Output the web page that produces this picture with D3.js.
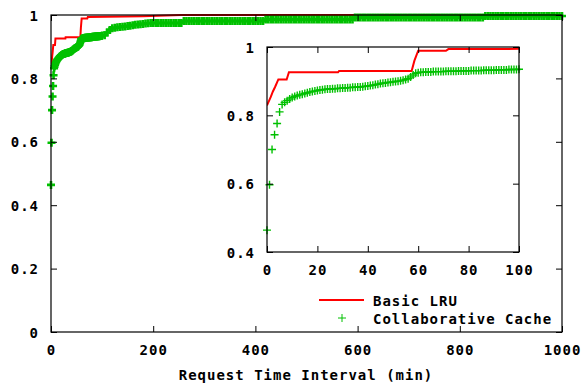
<!DOCTYPE html>
<html>
<head>
<meta charset="utf-8">
<script src="https://cdn.jsdelivr.net/npm/d3@7"></script>
<style>
  body { margin: 0; background: #fff; }
  text { font-family: "DejaVu Sans Mono", monospace; font-weight: bold; font-size: 14px; letter-spacing: 1px; fill: #000; }
</style>
</head>
<body>
<svg width="587" height="384"></svg>
<script>
// data
var lruTimes = [0, 1.5, 2.3, 3.2, 4.5, 7.8, 8.7, 28.2, 28.6, 57.4, 58.5, 60, 71, 72, 180, 255, 1000];
var lruHit   = [0.829, 0.854, 0.869, 0.883, 0.905, 0.905, 0.926, 0.926, 0.930, 0.930, 0.960, 0.989, 0.989, 0.994, 0.996, 1.0, 1.0];

// collaborative cache, sampled every minute up to 100
var collabFine = [
  0.464,0.597,0.700,0.743,0.776,0.810,0.832,0.838,0.843,0.848,
  0.852,0.855,0.858,0.860,0.862,0.864,0.866,0.868,0.870,0.871,
  0.873,0.874,0.875,0.876,0.877,0.877,0.878,0.878,0.879,0.879,
  0.880,0.880,0.881,0.881,0.882,0.882,0.883,0.883,0.884,0.885,
  0.886,0.887,0.888,0.890,0.891,0.893,0.894,0.895,0.896,0.897,
  0.898,0.899,0.900,0.901,0.903,0.905,0.907,0.912,0.918,0.923,
  0.925,0.926,0.926,0.927,0.927,0.927,0.928,0.928,0.928,0.928,
  0.928,0.929,0.929,0.929,0.929,0.929,0.930,0.930,0.930,0.930,
  0.930,0.931,0.931,0.931,0.931,0.931,0.932,0.932,0.932,0.932,
  0.932,0.933,0.933,0.933,0.933,0.933,0.934,0.934,0.934,0.934,0.935];
// then every 5 minutes from 105 to 1000
var collabCoarse = [
  0.936,0.945,0.953,0.958,0.960,0.961,0.962,0.963,0.964,0.965,
  0.966,0.968,0.969,0.970,0.971,0.972,0.973,0.974,0.975,0.975,
  0.975,0.975,0.975,0.975,0.975,0.975,0.975,0.975,0.975,0.975,
  0.975,0.981,0.981,0.981,0.981,0.981,0.981,0.981,0.981,0.981,
  0.981,0.981,0.981,0.981,0.981,0.981,0.981,0.981,0.981,0.981,
  0.981,0.981,0.981,0.981,0.981,0.981,0.981,0.981,0.981,0.981,
  0.981,0.981,0.981,0.986,0.986,0.986,0.986,0.986,0.986,0.986,
  0.986,0.986,0.986,0.986,0.986,0.986,0.986,0.986,0.986,0.986,
  0.986,0.986,0.986,0.986,0.986,0.986,0.986,0.986,0.986,0.986,
  0.986,0.986,0.986,0.986,0.986,0.986,0.986,0.986,0.992,0.992,
  0.992,0.992,0.992,0.992,0.992,0.992,0.992,0.992,0.992,0.992,
  0.992,0.992,0.992,0.992,0.992,0.992,0.992,0.992,0.992,0.992,
  0.992,0.992,0.992,0.992,0.992,0.992,0.992,0.992,0.992,0.992,
  0.992,0.992,0.992,0.992,0.992,0.992,0.992,0.992,0.992,0.992,
  0.992,0.992,0.992,0.992,0.992,0.992,0.992,0.992,0.992,0.997,
  0.997,0.997,0.997,0.997,0.997,0.997,0.997,0.997,0.997,0.997,
  0.997,0.997,0.997,0.997,0.997,0.997,0.997,0.997,0.997,0.997,
  0.997,0.997,0.997,0.997,0.997,0.997,0.997,0.997,0.997,0.997];
var fineTimes = d3.range(0, 101);
var coarseTimes = d3.range(105, 1001, 5);

var mainXTicks = [0, 200, 400, 600, 800, 1000];
var mainYTicks = [0, 0.2, 0.4, 0.6, 0.8, 1];
var insetXTicks = [0, 20, 40, 60, 80, 100];
var insetYTicks = [0.4, 0.6, 0.8, 1];
var seriesNames = ["Basic LRU", "Collaborative Cache"];
var xTitle = "Request Time Interval (min)";

var red = "#ff0000", green = "#00c000";

var lruPts = lruTimes.map(function(t, i) { return [t, lruHit[i]]; });
var collabPts = fineTimes.map(function(t, i) { return [t, collabFine[i]]; })
  .concat(coarseTimes.map(function(t, i) { return [t, collabCoarse[i]]; }));

var svg = d3.select("svg");
svg.append("rect").attr("width", 587).attr("height", 384).attr("fill", "#fff");

var plus = function(r) { return "M" + (-r) + ",0H" + r + "M0," + (-r) + "V" + r; };

// draws one framed gnuplot-style panel
function panel(box, xDom, yDom, xt, yt, pts, markW, clipId) {
  var x = d3.scaleLinear().domain(xDom).range([box.x0, box.x1]);
  var y = d3.scaleLinear().domain(yDom).range([box.y1, box.y0]);
  var g = svg.append("g");

  g.append("rect")
    .attr("x", box.x0).attr("y", box.y0)
    .attr("width", box.x1 - box.x0).attr("height", box.y1 - box.y0)
    .attr("fill", "#fff");

  g.append("clipPath").attr("id", clipId)
    .append("rect")
    .attr("x", box.x0).attr("y", box.y0 - 2)
    .attr("width", box.x1 - box.x0).attr("height", box.y1 - box.y0 + 2);

  g.append("path")
    .datum(lruPts)
    .attr("clip-path", "url(#" + clipId + ")")
    .attr("fill", "none")
    .attr("stroke", red)
    .attr("stroke-width", 2)
    .attr("d", d3.line().x(function(d) { return x(d[0]); }).y(function(d) { return y(d[1]); }));

  g.selectAll("path.pt")
    .data(pts.filter(function(d) { return d[0] <= xDom[1]; }))
    .enter().append("path")
    .attr("class", "pt")
    .attr("d", plus(4))
    .attr("stroke", green)
    .attr("stroke-width", markW)
    .attr("transform", function(d) { return "translate(" + [x(d[0]), y(d[1])] + ")"; });

  var fmt = function(d) { return String(d); };
  var axes = [
    [d3.axisBottom(x).tickValues(xt).tickFormat(fmt), [0, box.y1], "b"],
    [d3.axisTop(x).tickValues(xt), [0, box.y0], ""],
    [d3.axisLeft(y).tickValues(yt).tickFormat(fmt), [box.x0, 0], "l"],
    [d3.axisRight(y).tickValues(yt), [box.x1, 0], ""]
  ];
  axes.forEach(function(a) {
    var ax = g.append("g")
      .attr("transform", "translate(" + a[1] + ")")
      .call(a[0].tickSize(-6).tickSizeOuter(0));
    ax.select(".domain").remove();
    ax.selectAll("line").attr("stroke", "#000");
    ax.attr("font-size", null).attr("font-family", null);
    if (a[2] === "b") ax.selectAll("text").attr("y", 23).attr("dy", null);
    else if (a[2] === "l") ax.selectAll("text").attr("x", -12).attr("y", 5).attr("dy", null);
    else ax.selectAll("text").remove();
  });

  g.append("rect")
    .attr("x", box.x0).attr("y", box.y0)
    .attr("width", box.x1 - box.x0).attr("height", box.y1 - box.y0)
    .attr("fill", "none").attr("stroke", "#000").attr("stroke-width", 1.2);
  return g;
}

var mainBox = {x0: 51, x1: 562, y0: 15, y1: 332};
panel(mainBox, [0, 1000], [0, 1], mainXTicks, mainYTicks, collabPts, 2.6, "clipMain");

// legend
var leg = svg.append("g");
leg.append("line").attr("x1", 319).attr("x2", 364).attr("y1", 300).attr("y2", 300)
  .attr("stroke", red).attr("stroke-width", 2);
leg.append("path").attr("d", plus(4)).attr("transform", "translate(342,318)")
  .attr("stroke", green).attr("stroke-width", 1);
leg.selectAll("text").data(seriesNames).enter().append("text")
  .attr("x", 373).attr("y", function(d, i) { return 306 + i * 18; })
  .text(function(d) { return d; });

svg.append("text").attr("x", 306).attr("y", 380).attr("text-anchor", "middle").text(xTitle);

var insetBox = {x0: 267, x1: 519, y0: 47, y1: 252};
panel(insetBox, [0, 100], [0.4, 1], insetXTicks, insetYTicks, collabPts, 1.4, "clipInset");
</script>
</body>
</html>
